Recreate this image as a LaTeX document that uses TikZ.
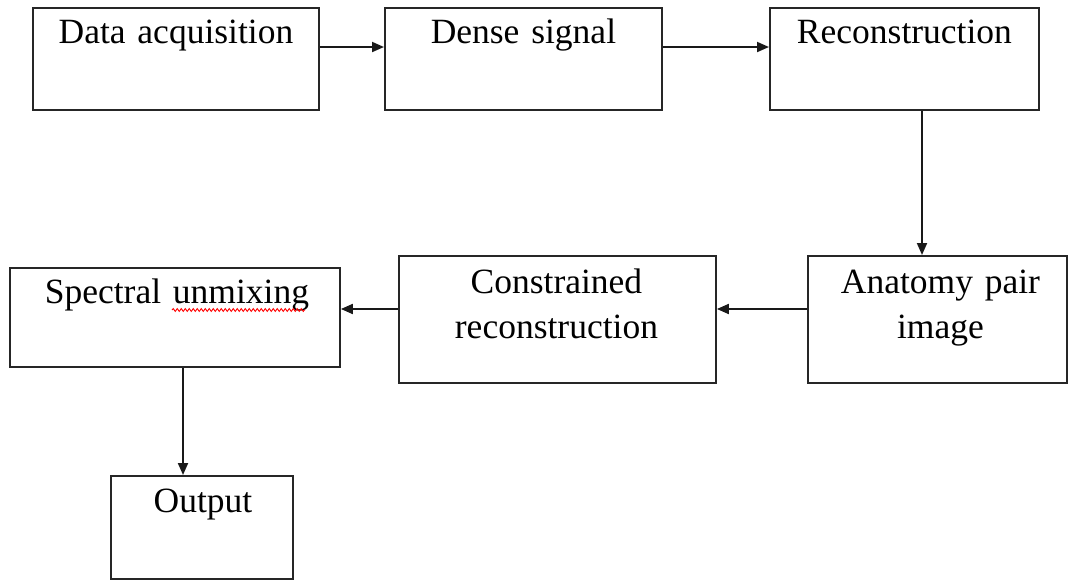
\documentclass[tikz,border=0pt]{standalone}
\usepackage{fontspec}
\setmainfont{Liberation Serif}
\usetikzlibrary{arrows.meta,decorations.pathmorphing}
\begin{document}
\begin{tikzpicture}[x=1pt,y=-1pt,
  box/.style={draw=black!85, line width=1.9pt, inner sep=0pt, anchor=north west, rectangle},
  lbl/.style={anchor=base, inner sep=0pt, align=center, font=\fontsize{35.5}{45}\selectfont},
  conn/.style={draw=black!90, line width=1.9pt, -{Triangle[length=12pt,width=10pt]}}]
\useasboundingbox (0,0) rectangle (1068,579);
% boxes
\node[box, minimum width=286pt, minimum height=102pt] (acq) at (32,7) {};
\node[box, minimum width=277pt, minimum height=102pt] (dense) at (384,7) {};
\node[box, minimum width=269pt, minimum height=102pt] (recon) at (769,7) {};
\node[box, minimum width=259pt, minimum height=127pt] (anat) at (807,255) {};
\node[box, minimum width=317pt, minimum height=127pt] (constr) at (398,255) {};
\node[box, minimum width=330pt, minimum height=99pt] (spec) at (9,267) {};
\node[box, minimum width=182pt, minimum height=103pt] (out) at (110,475) {};
% labels
\node[lbl, text width=286pt] (acqT) at ([yshift=-36pt]acq.north) {Data acquisition};
\node[lbl, text width=277pt] (denseT) at ([yshift=-36pt]dense.north) {Dense signal};
\node[lbl, text width=269pt] (reconT) at ([yshift=-36pt]recon.north) {Reconstruction};
\node[lbl, text width=259pt] (anatT) at ([xshift=3pt,yshift=-38pt]anat.north) {Anatomy pair\\image};
\node[lbl, text width=317pt] (constrT) at ([xshift=-1pt,yshift=-38pt]constr.north) {Constrained\\reconstruction};
\node[lbl, text width=330pt] (specT) at ([xshift=2pt,yshift=-36pt]spec.north) {Spectral unmixing};
\node[lbl, text width=182pt] (outT) at ([xshift=1pt,yshift=-37pt]out.north) {Output};
% spell-check underline
\draw[red, line width=0.9pt, decorate, decoration={snake, amplitude=1.4pt, segment length=4pt}]
  (172,310) coordinate (sqA) -- (305,310) coordinate (sqB);
% connectors
\draw[conn] ([yshift=-40pt]acq.north east) -- ([yshift=-40pt]dense.north west);
\draw[conn] ([yshift=-40pt]dense.north east) -- ([yshift=-40pt]recon.north west);
\draw[conn] ([xshift=153pt]recon.south west) -- ([xshift=115pt]anat.north west);
\draw[conn] ([yshift=-54pt]anat.north west) -- ([yshift=-54pt]constr.north east);
\draw[conn] ([yshift=-54pt]constr.north west) -- ([yshift=-42pt]spec.north east);
\draw[conn] ([xshift=174pt]spec.south west) -- ([xshift=73pt]out.north west);
\end{tikzpicture}
\end{document}
